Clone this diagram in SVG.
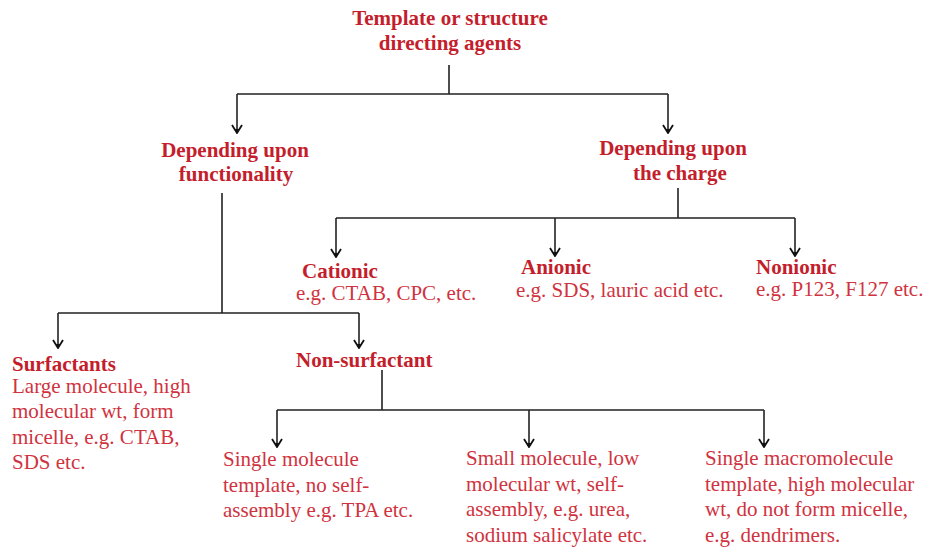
<svg xmlns="http://www.w3.org/2000/svg" width="927" height="550" viewBox="0 0 927 550">
<style>
text{font-family:"Liberation Serif","Times New Roman",serif;font-size:21px}
.h{font-weight:bold;fill:#c41e2c}
.t{fill:#d03340}
.c{text-anchor:middle}
.ln{fill:none;stroke:#222;stroke-width:1.6}
</style>
<defs>
<marker id="ar" viewBox="0 0 12 12" refX="11" refY="6" markerWidth="12" markerHeight="12" markerUnits="userSpaceOnUse" orient="auto">
<path d="M3,1 L11,6 L3,11" fill="none" stroke="#111" stroke-width="1.8"/>
<path d="M7,4 L11,6 L7,8 Z" fill="#111"/>
</marker>
</defs>
<rect width="927" height="550" fill="#fff"/>
<g id="connectors">
<path class="ln" d="M449,65 V94 M237,94 H668"/>
<path class="ln" d="M237,94 V133" marker-end="url(#ar)"/>
<path class="ln" d="M668,94 V133" marker-end="url(#ar)"/>
<path class="ln" d="M222,193 V313 M58,313 H359"/>
<path class="ln" d="M58,313 V348" marker-end="url(#ar)"/>
<path class="ln" d="M359,313 V348" marker-end="url(#ar)"/>
<path class="ln" d="M678,188 V218 M336,218 H795"/>
<path class="ln" d="M336,218 V257" marker-end="url(#ar)"/>
<path class="ln" d="M555,218 V256" marker-end="url(#ar)"/>
<path class="ln" d="M795,218 V256" marker-end="url(#ar)"/>
<path class="ln" d="M382,370 V410 M277,410 H764"/>
<path class="ln" d="M277,410 V447" marker-end="url(#ar)"/>
<path class="ln" d="M529,410 V447" marker-end="url(#ar)"/>
<path class="ln" d="M764,410 V447" marker-end="url(#ar)"/>
</g>
<g id="root">
<text class="h c" x="450" y="25">Template or structure</text>
<text class="h c" x="450" y="50">directing agents</text>
</g>
<g id="functionality">
<text class="h c" x="235" y="157">Depending upon</text>
<text class="h c" x="236" y="181">functionality</text>
</g>
<g id="charge">
<text class="h c" x="673" y="155">Depending upon</text>
<text class="h c" x="680" y="180">the charge</text>
</g>
<g id="cationic">
<text class="h" x="302" y="278">Cationic</text>
<text class="t" x="296" y="300">e.g. CTAB, CPC, etc.</text>
</g>
<g id="anionic">
<text class="h" x="521" y="274">Anionic</text>
<text class="t" x="516" y="297">e.g. SDS, lauric acid etc.</text>
</g>
<g id="nonionic">
<text class="h" x="756" y="274">Nonionic</text>
<text class="t" x="756" y="296">e.g. P123, F127 etc.</text>
</g>
<g id="surfactants">
<text class="h" x="12" y="371">Surfactants</text>
<text class="t" x="12" y="393">Large molecule, high</text>
<text class="t" x="12" y="418">molecular wt, form</text>
<text class="t" x="12" y="444">micelle, e.g. CTAB,</text>
<text class="t" x="12" y="469">SDS etc.</text>
</g>
<g id="nonsurfactant">
<text class="h" x="296" y="367">Non-surfactant</text>
</g>
<g id="single-molecule">
<text class="t" x="223" y="466">Single molecule</text>
<text class="t" x="223" y="492">template, no self-</text>
<text class="t" x="223" y="517">assembly e.g. TPA etc.</text>
</g>
<g id="small-molecule">
<text class="t" x="466" y="465">Small molecule, low</text>
<text class="t" x="466" y="491">molecular wt, self-</text>
<text class="t" x="466" y="516">assembly, e.g. urea,</text>
<text class="t" x="466" y="542">sodium salicylate  etc.</text>
</g>
<g id="macromolecule">
<text class="t" x="705" y="465">Single macromolecule</text>
<text class="t" x="705" y="491">template, high molecular</text>
<text class="t" x="705" y="516">wt, do not form micelle,</text>
<text class="t" x="705" y="542">e.g. dendrimers.</text>
</g>
</svg>
